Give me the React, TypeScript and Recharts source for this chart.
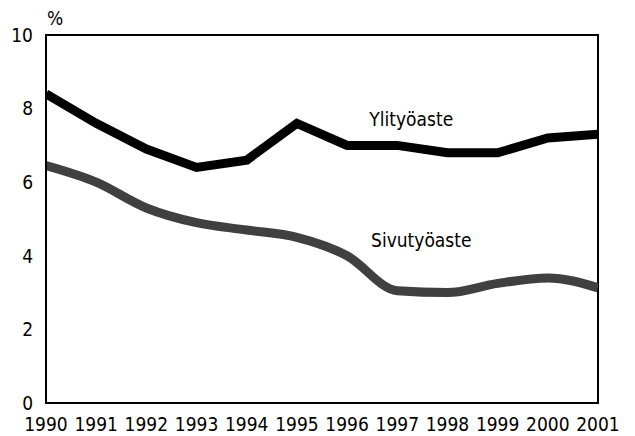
import React from "react";
import { LineChart, Line, XAxis, YAxis, ReferenceArea, LabelList } from "recharts";

const years = [1990, 1991, 1992, 1993, 1994, 1995, 1996, 1997, 1998, 1999, 2000, 2001];
const ylityoaste = [8.4, 7.6, 6.9, 6.4, 6.6, 7.6, 7.0, 7.0, 6.8, 6.8, 7.2, 7.3];
const sivutyoaste = [6.45, 6.0, 5.3, 4.9, 4.7, 4.5, 4.0, 3.05, 3.0, 3.25, 3.4, 3.13];
const yTicks = [0, 2, 4, 6, 8, 10];
const seriesLabels = ["Ylityöaste", "Sivutyöaste"];

const data = years.map((y, i) => ({ year: y, yli: ylityoaste[i], sivu: sivutyoaste[i] }));

const FONT = "'DejaVu Sans Condensed', 'DejaVu Sans', sans-serif";

const makeLabel = (text: string, idx: number, dx: number, dy: number) => (props: any) => {
  if (props.index !== idx) return null;
  return (
    <text x={props.x + dx} y={props.y + dy} textAnchor="middle" dominantBaseline="central"
      fontFamily={FONT} fontSize={19} fill="#000" style={{ fontStretch: "condensed" }}>
      {text}
    </text>
  );
};

export default function App() {
  return (
    <div style={{ position: "absolute", left: 0, top: 0, width: 635, height: 436, background: "#fff", fontStretch: "condensed" }}>
      <LineChart width={635} height={436} data={data} margin={{ top: 35, right: 37, bottom: 0, left: 0 }}>
        <XAxis dataKey="year" type="number" domain={[1990, 2001]} ticks={years} height={33}
          axisLine={{ stroke: "#000", strokeWidth: 2 }} tickLine={false} tickSize={0} tickMargin={15}
          tick={{ fill: "#000", fontSize: 19, fontFamily: FONT, style: { fontStretch: "condensed" } }} interval={0} allowDataOverflow />
        <YAxis type="number" domain={[0, 10]} ticks={yTicks} width={46}
          axisLine={{ stroke: "#000", strokeWidth: 2 }} tickLine={false} tickSize={0} tickMargin={13}
          tick={{ fill: "#000", fontSize: 19, fontFamily: FONT, style: { fontStretch: "condensed" } }}
          label={{ value: "%", position: "top", offset: 10, dx: 32, fill: "#000", fontSize: 19, fontFamily: FONT, style: { fontStretch: "condensed" } }} />
        <ReferenceArea x1={1990} x2={2001} y1={0} y2={10} fill="none" stroke="#000" strokeWidth={2} />
        <Line dataKey="yli" stroke="#000" strokeWidth={9} dot={false} isAnimationActive={false} strokeLinejoin="miter">
          <LabelList dataKey="yli" content={makeLabel(seriesLabels[0], 7, 14, -26)} />
        </Line>
        <Line dataKey="sivu" stroke="#404040" strokeWidth={9} dot={false} isAnimationActive={false} type="monotone">
          <LabelList dataKey="sivu" content={makeLabel(seriesLabels[1], 7, 24, -51)} />
        </Line>
      </LineChart>
    </div>
  );
}
